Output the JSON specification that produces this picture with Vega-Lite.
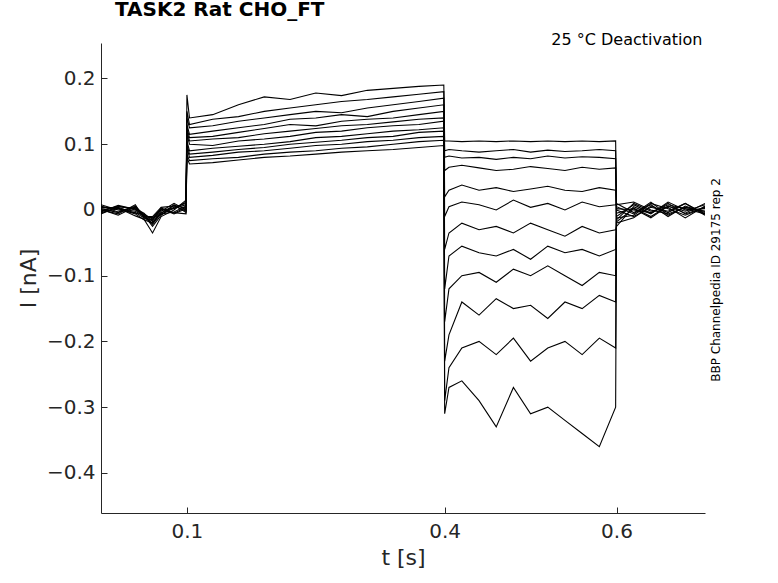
{
  "$schema": "https://vega.github.io/schema/vega-lite/v6.json",
  "width": 604,
  "height": 470,
  "autosize": "none",
  "padding": {"left": 101, "top": 43, "right": 73, "bottom": 70},
  "background": "white",
  "config": {"font": "DejaVu Sans", "view": {"stroke": null}},
  "title": {"text": "TASK2  Rat  CHO_FT", "anchor": "start", "frame": "group", "fontSize": 20, "fontWeight": "bold", "color": "black", "offset": 12, "dx": 14},
  "layer": [
    {
      "data": {"values": [
        {"t":0,"a":0.005,"b":-0.003,"c":0.002,"d":0.008,"e":-0.006,"f":0.001,"g":0.004,"h":-0.002,"i":0.006,"j":-0.004,"k":0.0,"l":0.003},
        {"t":0.02,"a":0.002,"b":0.007,"c":-0.004,"d":0.0,"e":0.005,"f":-0.008,"g":0.003,"h":0.006,"i":-0.003,"j":0.002,"k":-0.006,"l":0.004},
        {"t":0.04,"a":-0.006,"b":0.001,"c":0.006,"d":-0.004,"e":0.002,"f":0.005,"g":-0.009,"h":0.0,"i":0.004,"j":-0.002,"k":0.008,"l":-0.005},
        {"t":0.05,"a":-0.015,"b":-0.01,"c":-0.008,"d":-0.012,"e":-0.005,"f":-0.01,"g":-0.014,"h":-0.006,"i":-0.011,"j":-0.009,"k":-0.013,"l":-0.007},
        {"t":0.06,"a":-0.02,"b":-0.012,"c":-0.025,"d":-0.015,"e":-0.018,"f":-0.01,"g":-0.035,"h":-0.014,"i":-0.02,"j":-0.012,"k":-0.016,"l":-0.022},
        {"t":0.07,"a":-0.004,"b":0.002,"c":-0.008,"d":0.0,"e":-0.006,"f":0.004,"g":-0.01,"h":0.003,"i":-0.002,"j":-0.007,"k":0.001,"l":-0.005},
        {"t":0.085,"a":0.004,"b":-0.006,"c":0.008,"d":0.002,"e":-0.003,"f":0.006,"g":0.0,"h":-0.005,"i":0.01,"j":0.003,"k":-0.004,"l":0.007},
        {"t":0.099,"a":0.01,"b":0.002,"c":-0.004,"d":0.012,"e":0.006,"f":-0.002,"g":0.015,"h":0.004,"i":0.0,"j":0.008,"k":-0.006,"l":0.003},
        {"t":0.1,"a":0.175,"b":0.15,"c":0.14,"d":0.13,"e":0.125,"f":0.12,"g":0.115,"h":0.105,"i":0.1,"j":0.095,"k":0.085,"l":0.08},
        {"t":0.103,"a":0.14,"b":0.13,"c":0.125,"d":0.115,"e":0.11,"f":0.105,"g":0.1,"h":0.09,"i":0.085,"j":0.08,"k":0.075,"l":0.07},
        {"t":0.13,"a":0.145,"b":0.138,"c":0.128,"d":0.12,"e":0.112,"f":0.108,"g":0.098,"h":0.094,"i":0.088,"j":0.083,"k":0.078,"l":0.072},
        {"t":0.16,"a":0.16,"b":0.142,"c":0.135,"d":0.125,"e":0.118,"f":0.11,"g":0.105,"h":0.097,"i":0.092,"j":0.088,"k":0.08,"l":0.076},
        {"t":0.19,"a":0.172,"b":0.15,"c":0.14,"d":0.13,"e":0.124,"f":0.116,"g":0.108,"h":0.1,"i":0.095,"j":0.09,"k":0.085,"l":0.08},
        {"t":0.22,"a":0.168,"b":0.155,"c":0.145,"d":0.138,"e":0.13,"f":0.12,"g":0.112,"h":0.104,"i":0.1,"j":0.094,"k":0.088,"l":0.082},
        {"t":0.25,"a":0.178,"b":0.16,"c":0.15,"d":0.14,"e":0.128,"f":0.124,"g":0.118,"h":0.11,"i":0.103,"j":0.098,"k":0.09,"l":0.085},
        {"t":0.28,"a":0.174,"b":0.165,"c":0.148,"d":0.145,"e":0.135,"f":0.128,"g":0.12,"h":0.112,"i":0.106,"j":0.1,"k":0.094,"l":0.088},
        {"t":0.31,"a":0.182,"b":0.168,"c":0.155,"d":0.142,"e":0.138,"f":0.13,"g":0.125,"h":0.116,"i":0.11,"j":0.104,"k":0.096,"l":0.09},
        {"t":0.34,"a":0.185,"b":0.172,"c":0.16,"d":0.15,"e":0.14,"f":0.134,"g":0.128,"h":0.12,"i":0.112,"j":0.106,"k":0.1,"l":0.092},
        {"t":0.37,"a":0.188,"b":0.176,"c":0.165,"d":0.155,"e":0.145,"f":0.138,"g":0.13,"h":0.122,"i":0.118,"j":0.11,"k":0.104,"l":0.095},
        {"t":0.399,"a":0.19,"b":0.18,"c":0.17,"d":0.16,"e":0.15,"f":0.14,"g":0.135,"h":0.125,"i":0.12,"j":0.112,"k":0.106,"l":0.098},
        {"t":0.4,"a":0.105,"b":0.09,"c":0.08,"d":0.06,"e":0.02,"f":-0.01,"g":-0.06,"h":-0.12,"i":-0.17,"j":-0.23,"k":-0.29,"l":-0.31},
        {"t":0.405,"a":0.105,"b":0.092,"c":0.082,"d":0.065,"e":0.03,"f":0.005,"g":-0.035,"h":-0.07,"i":-0.12,"j":-0.19,"k":-0.24,"l":-0.27},
        {"t":0.42,"a":0.104,"b":0.09,"c":0.079,"d":0.068,"e":0.038,"f":0.012,"g":-0.02,"h":-0.055,"i":-0.1,"j":-0.14,"k":-0.21,"l":-0.26},
        {"t":0.44,"a":0.105,"b":0.088,"c":0.08,"d":0.064,"e":0.03,"f":0.008,"g":-0.03,"h":-0.065,"i":-0.095,"j":-0.16,"k":-0.2,"l":-0.29},
        {"t":0.46,"a":0.104,"b":0.09,"c":0.077,"d":0.06,"e":0.034,"f":0.0,"g":-0.025,"h":-0.07,"i":-0.11,"j":-0.135,"k":-0.22,"l":-0.33},
        {"t":0.48,"a":0.105,"b":0.092,"c":0.08,"d":0.062,"e":0.028,"f":0.015,"g":-0.035,"h":-0.06,"i":-0.09,"j":-0.15,"k":-0.195,"l":-0.27},
        {"t":0.5,"a":0.104,"b":0.088,"c":0.078,"d":0.066,"e":0.032,"f":0.004,"g":-0.02,"h":-0.075,"i":-0.1,"j":-0.145,"k":-0.23,"l":-0.31},
        {"t":0.52,"a":0.105,"b":0.091,"c":0.082,"d":0.063,"e":0.036,"f":0.01,"g":-0.03,"h":-0.055,"i":-0.085,"j":-0.165,"k":-0.21,"l":-0.3},
        {"t":0.54,"a":0.104,"b":0.089,"c":0.079,"d":0.06,"e":0.03,"f":0.0,"g":-0.04,"h":-0.065,"i":-0.1,"j":-0.14,"k":-0.2,"l":-0.32},
        {"t":0.56,"a":0.105,"b":0.09,"c":0.081,"d":0.065,"e":0.028,"f":0.012,"g":-0.025,"h":-0.06,"i":-0.115,"j":-0.15,"k":-0.22,"l":-0.34},
        {"t":0.58,"a":0.104,"b":0.092,"c":0.08,"d":0.062,"e":0.034,"f":0.005,"g":-0.035,"h":-0.07,"i":-0.095,"j":-0.13,"k":-0.195,"l":-0.36},
        {"t":0.599,"a":0.105,"b":0.09,"c":0.078,"d":0.064,"e":0.03,"f":0.008,"g":-0.03,"h":-0.06,"i":-0.1,"j":-0.14,"k":-0.21,"l":-0.3},
        {"t":0.6,"a":-0.01,"b":-0.02,"c":-0.005,"d":0.005,"e":-0.015,"f":0.01,"g":-0.025,"h":0.0,"i":-0.018,"j":0.008,"k":-0.012,"l":0.002},
        {"t":0.62,"a":0.008,"b":-0.012,"c":0.003,"d":-0.006,"e":0.01,"f":-0.004,"g":0.005,"h":-0.01,"i":0.002,"j":0.012,"k":-0.008,"l":0.0},
        {"t":0.64,"a":-0.005,"b":0.006,"c":-0.01,"d":0.012,"e":-0.002,"f":0.008,"g":-0.006,"h":0.004,"i":-0.012,"j":0.0,"k":0.01,"l":-0.004},
        {"t":0.66,"a":0.01,"b":-0.004,"c":0.006,"d":-0.008,"e":0.004,"f":-0.01,"g":0.012,"h":-0.002,"i":0.006,"j":-0.006,"k":0.002,"l":0.008},
        {"t":0.68,"a":-0.006,"b":0.01,"c":-0.002,"d":0.004,"e":-0.012,"f":0.006,"g":0.0,"h":0.01,"i":-0.005,"j":0.004,"k":-0.008,"l":0.002},
        {"t":0.703,"a":0.004,"b":-0.006,"c":0.008,"d":-0.002,"e":0.006,"f":-0.004,"g":0.002,"h":-0.008,"i":0.01,"j":-0.002,"k":0.004,"l":-0.006}
      ]},
      "transform": [{"fold": ["a","b","c","d","e","f","g","h","i","j","k","l"], "as": ["trace", "current"]}],
      "mark": {"type": "line", "color": "black", "strokeWidth": 1.1, "clip": true},
      "encoding": {
        "x": {"field": "t", "type": "quantitative", "scale": {"domain": [0, 0.703], "nice": false, "zero": false},
          "axis": {"values": [0.1, 0.4, 0.6], "format": "~g", "title": "t [s]", "titleFontSize": 22, "titleFontWeight": "normal", "titleColor": "#262626", "labelFontSize": 20, "labelColor": "#262626", "domainColor": "#262626", "tickColor": "#262626", "tickSize": -6, "labelPadding": 14, "titlePadding": 6, "grid": false}},
        "y": {"field": "current", "type": "quantitative", "scale": {"domain": [-0.461, 0.254], "nice": false},
          "axis": {"values": [-0.4, -0.3, -0.2, -0.1, 0, 0.1, 0.2], "format": "~g", "title": "I [nA]", "titleFontSize": 22, "titleFontWeight": "normal", "titleColor": "#262626", "labelFontSize": 20, "labelColor": "#262626", "domainColor": "#262626", "tickColor": "#262626", "tickSize": -6, "labelPadding": 12, "titlePadding": 6, "grid": false}},
        "detail": {"field": "trace", "type": "nominal"}
      }
    },
    {
      "data": {"values": [{"lab": "25 °C  Deactivation", "t": 0.7, "v": 0.258}]},
      "mark": {"type": "text", "align": "right", "baseline": "middle", "fontSize": 16, "color": "black"},
      "encoding": {"x": {"field": "t", "type": "quantitative"}, "y": {"field": "v", "type": "quantitative"}, "text": {"field": "lab"}}
    },
    {
      "data": {"values": [{"lab": "BBP Channelpedia ID 29175 rep 2", "t": 0.703, "v": 0.0}]},
      "mark": {"type": "text", "align": "center", "baseline": "middle", "angle": 270, "fontSize": 12, "color": "black", "dx": -70, "dy": 11},
      "encoding": {"x": {"field": "t", "type": "quantitative"}, "y": {"field": "v", "type": "quantitative"}, "text": {"field": "lab"}}
    }
  ]
}
